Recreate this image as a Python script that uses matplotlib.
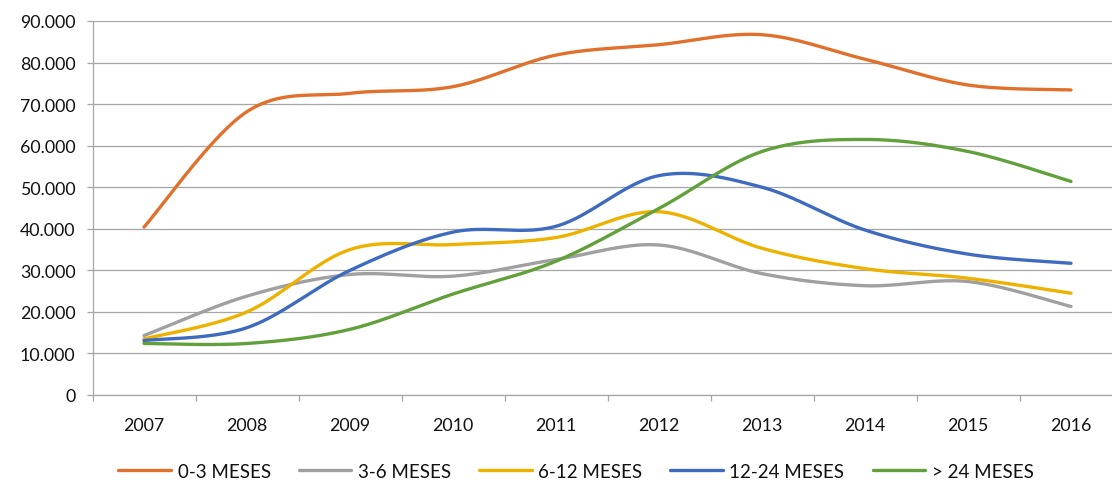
import numpy as np
import matplotlib
matplotlib.use("Agg")
import matplotlib.pyplot as plt
from matplotlib.ticker import FuncFormatter, MultipleLocator

plt.rcParams['font.family'] = ['Lato', 'DejaVu Sans']

years = ["2007", "2008", "2009", "2010", "2011", "2012", "2013", "2014", "2015", "2016"]
series_names = ["0-3 MESES", "3-6 MESES", "6-12 MESES", "12-24 MESES", "> 24 MESES"]
meses_0_3 = [40400, 68200, 72600, 74200, 81800, 84300, 86700, 80800, 74600, 73400]
meses_3_6 = [14300, 23800, 29000, 28600, 32600, 36100, 29200, 26300, 27300, 21300]
meses_6_12 = [13500, 20000, 35000, 36200, 37900, 44100, 35300, 30400, 28100, 24500]
meses_12_24 = [13100, 16200, 30000, 39200, 40600, 52800, 50000, 39700, 33900, 31700]
meses_24 = [12400, 12400, 15800, 24300, 32200, 44900, 58600, 61500, 58600, 51400]
colors = ["#E0702B", "#A0A0A0", "#EDB100", "#3E6BBF", "#62A03C"]

all_series = [meses_0_3, meses_3_6, meses_6_12, meses_12_24, meses_24]


def excel_smooth(y, n=40):
    """Bezier smoothing similar to Excel's smoothed line."""
    x = np.arange(len(y), dtype=float)
    y = np.asarray(y, dtype=float)
    P = np.column_stack([x, y])
    out = [P[0]]
    m = len(P)
    for i in range(m - 1):
        p0 = P[i - 1] if i > 0 else P[i]
        p1 = P[i]
        p2 = P[i + 1]
        p3 = P[i + 2] if i + 2 < m else P[i + 1]
        c1 = p1 + (p2 - p0) / 6.0
        c2 = p2 - (p3 - p1) / 6.0
        t = np.linspace(0, 1, n)[1:, None]
        b = ((1 - t) ** 3) * p1 + 3 * ((1 - t) ** 2) * t * c1 + 3 * (1 - t) * t ** 2 * c2 + t ** 3 * p2
        out.extend(b)
    out = np.array(out)
    return out[:, 0], out[:, 1]


W, H = 1112, 481
fig = plt.figure(figsize=(W / 100, H / 100), dpi=100)
left = 92.5 / W
right = (92.5 + 103 * 10) / W
bottom = 1 - 396 / H
top = 1 - 22 / H
ax = fig.add_axes([left, bottom, right - left, top - bottom])

for vals, name, c in zip(all_series, series_names, colors):
    xs, ys = excel_smooth(vals)
    ax.plot(xs, ys, color=c, lw=2.4, label=name, solid_capstyle='round', zorder=3)

ax.set_xlim(-0.5, len(years) - 0.5)
ax.set_ylim(0, 90000)
ax.yaxis.set_major_locator(MultipleLocator(10000))
ax.yaxis.set_major_formatter(FuncFormatter(lambda v, p: f"{int(v):,}".replace(",", ".")))
ax.set_xticks(np.arange(len(years)))
ax.set_xticklabels(years)
ax.set_xticks(np.arange(len(years) + 1) - 0.5, minor=True)

grid_c = "#A6A6A6"
ax.grid(axis='y', color=grid_c, lw=0.9, zorder=1)
ax.set_axisbelow(True)
for s in ['top', 'right']:
    ax.spines[s].set_visible(False)
for s in ['left', 'bottom']:
    ax.spines[s].set_color(grid_c)
    ax.spines[s].set_linewidth(0.9)

txt_c = '#111111'
ax.tick_params(axis='x', which='major', length=0, pad=16, labelsize=12.8, colors=txt_c)
ax.tick_params(axis='x', which='minor', length=4.3, width=0.9, color=grid_c)
ax.tick_params(axis='y', length=4.3, width=0.9, color=grid_c, pad=8, labelsize=12.8, labelcolor=txt_c)

fig.legend(loc='center', bbox_to_anchor=(0.518, 1 - 472 / H), ncol=5, frameon=False,
           fontsize=13.5, handlelength=2.8, handletextpad=0.35, columnspacing=1.5,
           labelcolor=txt_c)

fig.savefig("out.png", dpi=100)
